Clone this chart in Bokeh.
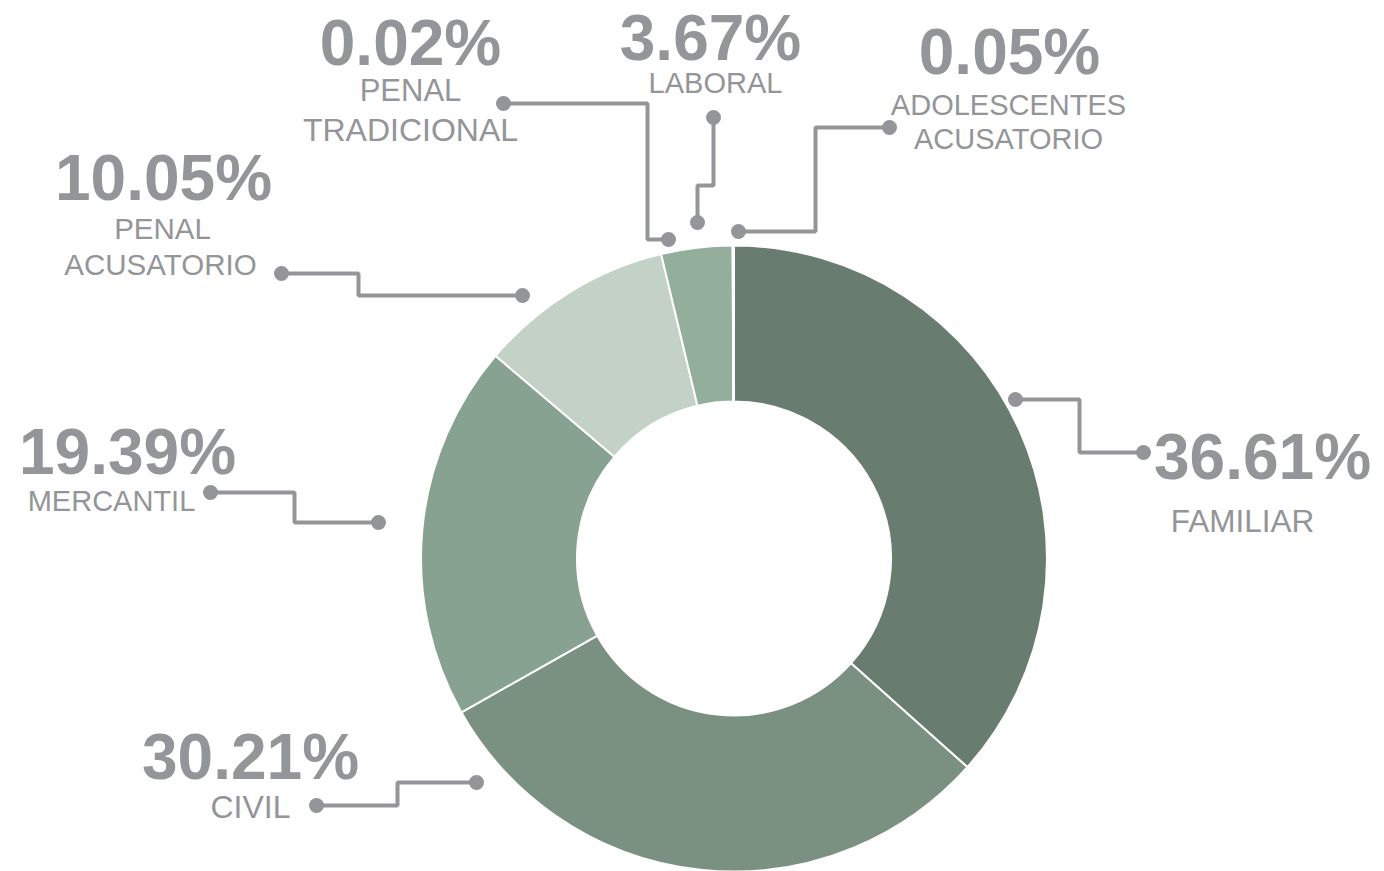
import numpy as np
from bokeh.plotting import figure
from bokeh.models import Range1d, ColumnDataSource
from bokeh.core.properties import value
from bokeh.embed import file_html
from bokeh.resources import INLINE

# ---- data ----
categories = ["FAMILIAR", "CIVIL", "MERCANTIL", "PENAL\nACUSATORIO", "LABORAL",
              "PENAL\nTRADICIONAL", "ADOLESCENTES\nACUSATORIO"]
percents = [36.61, 30.21, 19.39, 10.05, 3.67, 0.02, 0.05]
pct_labels = ["36.61%", "30.21%", "19.39%", "10.05%", "3.67%", "0.02%", "0.05%"]

# ---- styles / layout ----
W, H = 1384, 871
colors = ["#687D6F", "#7A9181", "#88A291", "#C3D1C7", "#93AF9B", "#93AF9B", "#93AF9B"]
GRAY = "#939598"
CX, CY = 733.5, 558
R_OUT, R_IN = 313, 157
PCT_SIZE = 64

# label anchor (center x, baseline y of percentage), category text lines (x, baseline y, size) in pixel coords
pct_pos = [(1262, 480), (250, 780), (127, 475), (163, 201), (710, 61), (410, 66), (1009, 75)]
cat_pos = [[(1242, 533, 31.5)], [(250, 820, 32)], [(111, 512, 29)],
           [(162, 240, 29.5), (160, 276, 29.5)],
           [(715, 94, 29)], [(410, 103, 31), (410, 143, 32)],
           [(1008, 116, 29), (1008, 150, 29)]]
# connector polylines (pixel coords), first and last points carry dots
connectors = [
    [(1015, 399), (1079, 399), (1079, 452), (1143, 452)],
    [(476, 782), (397, 782), (397, 805), (316, 805)],
    [(210, 492), (294, 492), (294, 522), (378, 522)],
    [(281, 273), (358, 273), (358, 295), (522, 295)],
    [(713, 117), (713, 185), (697, 185), (697, 222)],
    [(503, 103), (647, 103), (647, 239), (668, 239)],
    [(889, 127), (815, 127), (815, 231), (738, 231)],
]

def fy(y):
    return H - y

p = figure(width=W, height=H, output_backend="svg", toolbar_location=None,
           x_range=Range1d(0, W), y_range=Range1d(0, H), min_border=0)
p.axis.visible = False
p.grid.visible = False
p.outline_line_color = None
p.background_fill_color = "white"
p.border_fill_color = "white"

frac = np.array(percents) / sum(percents)
cum = np.concatenate([[0], np.cumsum(frac)])
start = np.pi / 2 - 2 * np.pi * cum[:-1]
end = np.pi / 2 - 2 * np.pi * cum[1:]
src = ColumnDataSource(dict(start=start, end=end, color=colors))
p.annular_wedge(x=CX, y=fy(CY), inner_radius=R_IN, outer_radius=R_OUT,
                start_angle="start", end_angle="end", direction="clock",
                fill_color="color", line_color="white", line_width=2, source=src)

# connectors
xs = [[pt[0] for pt in c] for c in connectors]
ys = [[fy(pt[1]) for pt in c] for c in connectors]
p.multi_line(xs=xs, ys=ys, line_color=GRAY, line_width=4)
dx = [c[0][0] for c in connectors] + [c[-1][0] for c in connectors]
dy = [fy(c[0][1]) for c in connectors] + [fy(c[-1][1]) for c in connectors]
p.scatter(x=dx, y=dy, size=15, fill_color=GRAY, line_color=None)

# percentage labels
p.text(x=[q[0] for q in pct_pos], y=[fy(q[1] - 0.37 * PCT_SIZE) for q in pct_pos], text=pct_labels,
       text_font=value("Liberation Sans"), text_font_style="bold", text_font_size=f"{PCT_SIZE}px",
       text_color=GRAY, text_align="center", text_baseline="alphabetic")

# category labels
cx_, cy_, ct_, cs_ = [], [], [], []
for name, poss in zip(categories, cat_pos):
    for line, (x, y, s) in zip(name.split("\n"), poss):
        cx_.append(x); cy_.append(fy(y - 0.41 * s)); ct_.append(line); cs_.append(f"{s}px")
csrc = ColumnDataSource(dict(x=cx_, y=cy_, t=ct_, s=cs_))
p.text(x="x", y="y", text="t", text_font_size="s", source=csrc,
       text_font=value("Liberation Sans"),
       text_color=GRAY, text_align="center", text_baseline="alphabetic")

open("out.html", "w").write(file_html(p, INLINE))
